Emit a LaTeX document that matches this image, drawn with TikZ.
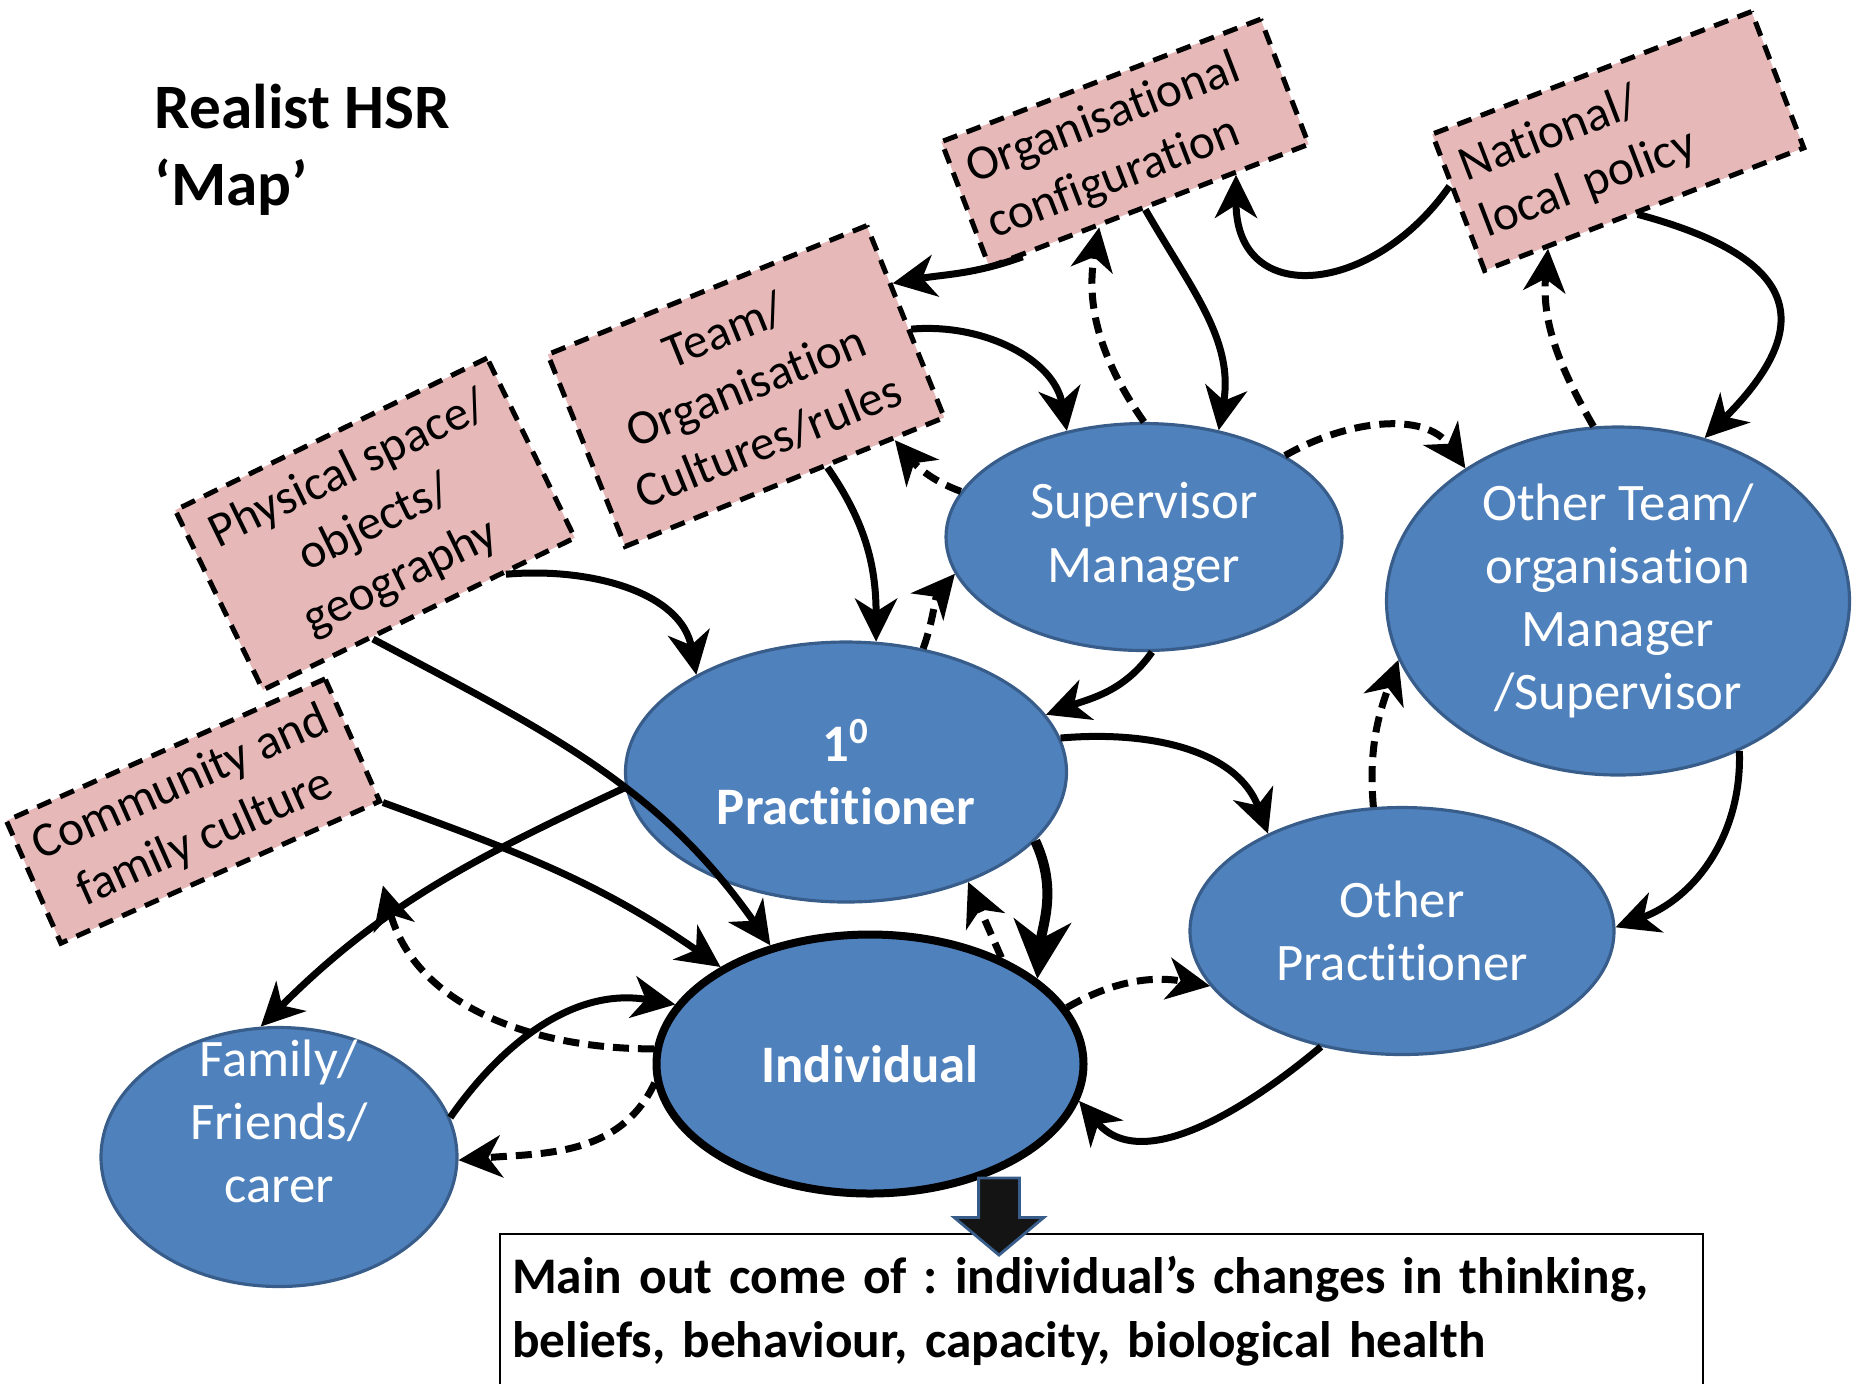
\documentclass[tikz,border=0pt]{standalone}
\usepackage{fontspec}
\setmainfont{Carlito}[Ligatures={NoCommon,NoContextual}]
\usetikzlibrary{arrows.meta, positioning, shapes.geometric, shapes.arrows, calc}
\definecolor{blush}{HTML}{E6B9B8}
\definecolor{steel}{HTML}{4F81BD}
\definecolor{steeldark}{HTML}{385D8A}
\frenchspacing

\tikzset{
  ctxbox/.style={draw, fill=blush, line width=0.5mm, dash pattern=on 1.5mm off 1mm,
    align=center, inner sep=1.5mm, font=\fontsize{14}{17}\selectfont},
  blob/.style={ellipse, draw=steeldark, line width=0.9pt, fill=steel, text=white,
    align=center, inner sep=0pt, font=\fontsize{15}{18}\selectfont},
  flow/.style={line width=0.7mm, -{Stealth[length=4.3mm,width=4.2mm,inset=1.3mm]}},
  flowdash/.style={flow, dash pattern=on 1.6mm off 0.9mm},
}

\begin{document}
\begin{tikzpicture}[x=0.1mm, y=-0.1mm]
  \useasboundingbox (0,0) rectangle (1863,1383);

  % title
  \node[font=\fontsize{18}{22}\selectfont\bfseries, align=left, inner sep=0pt, anchor=north west] (title) at (154,83) {Realist HSR\\‘Map’};

  % context boxes
  \node[ctxbox, rotate=21, minimum width=34.2mm, minimum height=13.4mm, align=left, text width=31.2mm] (org) at (1125,143) {Organisational\\configuration};
  \node[ctxbox, rotate=21, minimum width=34.2mm, minimum height=14.6mm, align=left, text width=31.2mm] (nat) at (1618,141) {National/\\local policy};
  \node[ctxbox, rotate=22, minimum width=34.4mm, minimum height=20.7mm] (team) at (746,386) {Team/\\Organisation\\Cultures/rules};
  \node[ctxbox, rotate=26, minimum width=34.7mm, minimum height=20mm] (phys) at (375,524) {Physical space/\\objects/\\geography};
  \node[ctxbox, rotate=24, minimum width=34.6mm, minimum height=13.4mm] (comm) at (193,811) {Community and\\family culture};

  % people
  \node[blob, minimum width=39.6mm, minimum height=22.7mm] (sup) at (1144,537) {Supervisor\\Manager};
  \node[blob, minimum width=46.3mm, minimum height=34.8mm] (oteam) at (1618,601) {Other Team/\\organisation\\Manager\\/Supervisor};
  \node[blob, minimum width=44.1mm, minimum height=26mm, font=\fontsize{15}{18}\selectfont\bfseries] (prac) at (846,772) {1\textsuperscript{0}\\Practitioner};
  \node[blob, minimum width=42.4mm, minimum height=24.7mm] (oprac) at (1402,931) {Other\\Practitioner};
  \node[blob, draw=black, line width=0.8mm, minimum width=42.7mm, minimum height=25.9mm, font=\fontsize{15}{18}\selectfont\bfseries] (indiv) at (870,1064) {Individual};
  \node[blob, minimum width=35.6mm, minimum height=25.9mm] (fam) at (279,1157) {\raisebox{5pt}[0pt][0pt]{\begin{tabular}{@{}c@{}}Family/\\Friends/\\carer\end{tabular}}};

  % influences
  \draw[flow] (org.207) to[out=200,in=10] (team.13);
  \draw[flow] (team.357) to[out=5,in=100] (sup.126);
  \draw[flow] (org.266) to[out=-60,in=80] (sup.55);
  \draw[flowdash] (sup.90) to[out=125,in=-100] (org.232);
  \draw[flow] (nat.174) to[out=-125,in=-90, looseness=1.6] (org.323);
  \draw[flow] (nat.264) to[out=-15,in=45, looseness=1.8] (oteam.62);
  \draw[flowdash] (oteam.98) to[out=120,in=-95] (nat.216);
  \draw[flowdash] (sup.30) to[out=30,in=125] (oteam.139);
  \draw[flow] (team.293) to[out=-55,in=90] (prac.77);
  \draw[flowdash] (sup.166) to[out=160,in=-50] (team.318);
  \draw[flowdash] (prac.58) to[out=70,in=230] (sup.191);
  \draw[flow] (sup.274) to[out=-125,in=20] (prac.16);
  \draw[flow] (phys.313) to[out=5,in=100] (prac.147);
  \draw[flow] (phys.243) to[out=-28,in=125] (indiv.130);
  \draw[flow] (comm.south east) to[out=-20,in=145] (indiv.147);
  \draw[flow] (prac.184) to[out=205,in=45] (fam.98);
  \draw[flowdash] (indiv.176) to[out=180,in=-75] ($(comm.south east)+(0,83)$);
  \draw[flow] (fam.13) to[out=55,in=170] (indiv.163);
  \draw[flowdash] (indiv.185) to[out=-115,in=5] (fam.359);
  \draw[flow, line width=1mm, -{Stealth[length=5.8mm,width=5.7mm,inset=1.8mm]}] (prac.340) to[out=-65,in=85] (indiv.27);
  \draw[flowdash] (indiv.39) -- (prac.318);
  \draw[flowdash] (indiv.16) to[out=30,in=170] (oprac.196);
  \draw[flow] (oprac.235) to[out=-140,in=-50] (indiv.350);
  \draw[flowdash] (oprac.103) to[out=95,in=-110] (oteam.195);
  \draw[flow] (oteam.309) to[out=-88,in=20] (oprac.1);
  \draw[flow] (prac.9) to[out=5,in=110] (oprac.144);

  % outcome
  \node[draw, line width=0.6pt, minimum width=120.3mm, minimum height=15.5mm, text width=117.9mm, align=left, inner xsep=1.2mm, font=\fontsize{14.6}{18.2}\selectfont\bfseries, anchor=north west] (outcome) at (499,1233) {Main out come of : individual’s changes in thinking,\\beliefs, behaviour, capacity, biological health};
  \node[single arrow, draw=steeldark, fill=black!92, line width=0.8pt, rotate=-90, inner xsep=0pt, inner ysep=1.9mm, minimum height=7.7mm, single arrow head extend=2.45mm, single arrow tip angle=100] (drop) at (999,1208) {};
\end{tikzpicture}
\end{document}
